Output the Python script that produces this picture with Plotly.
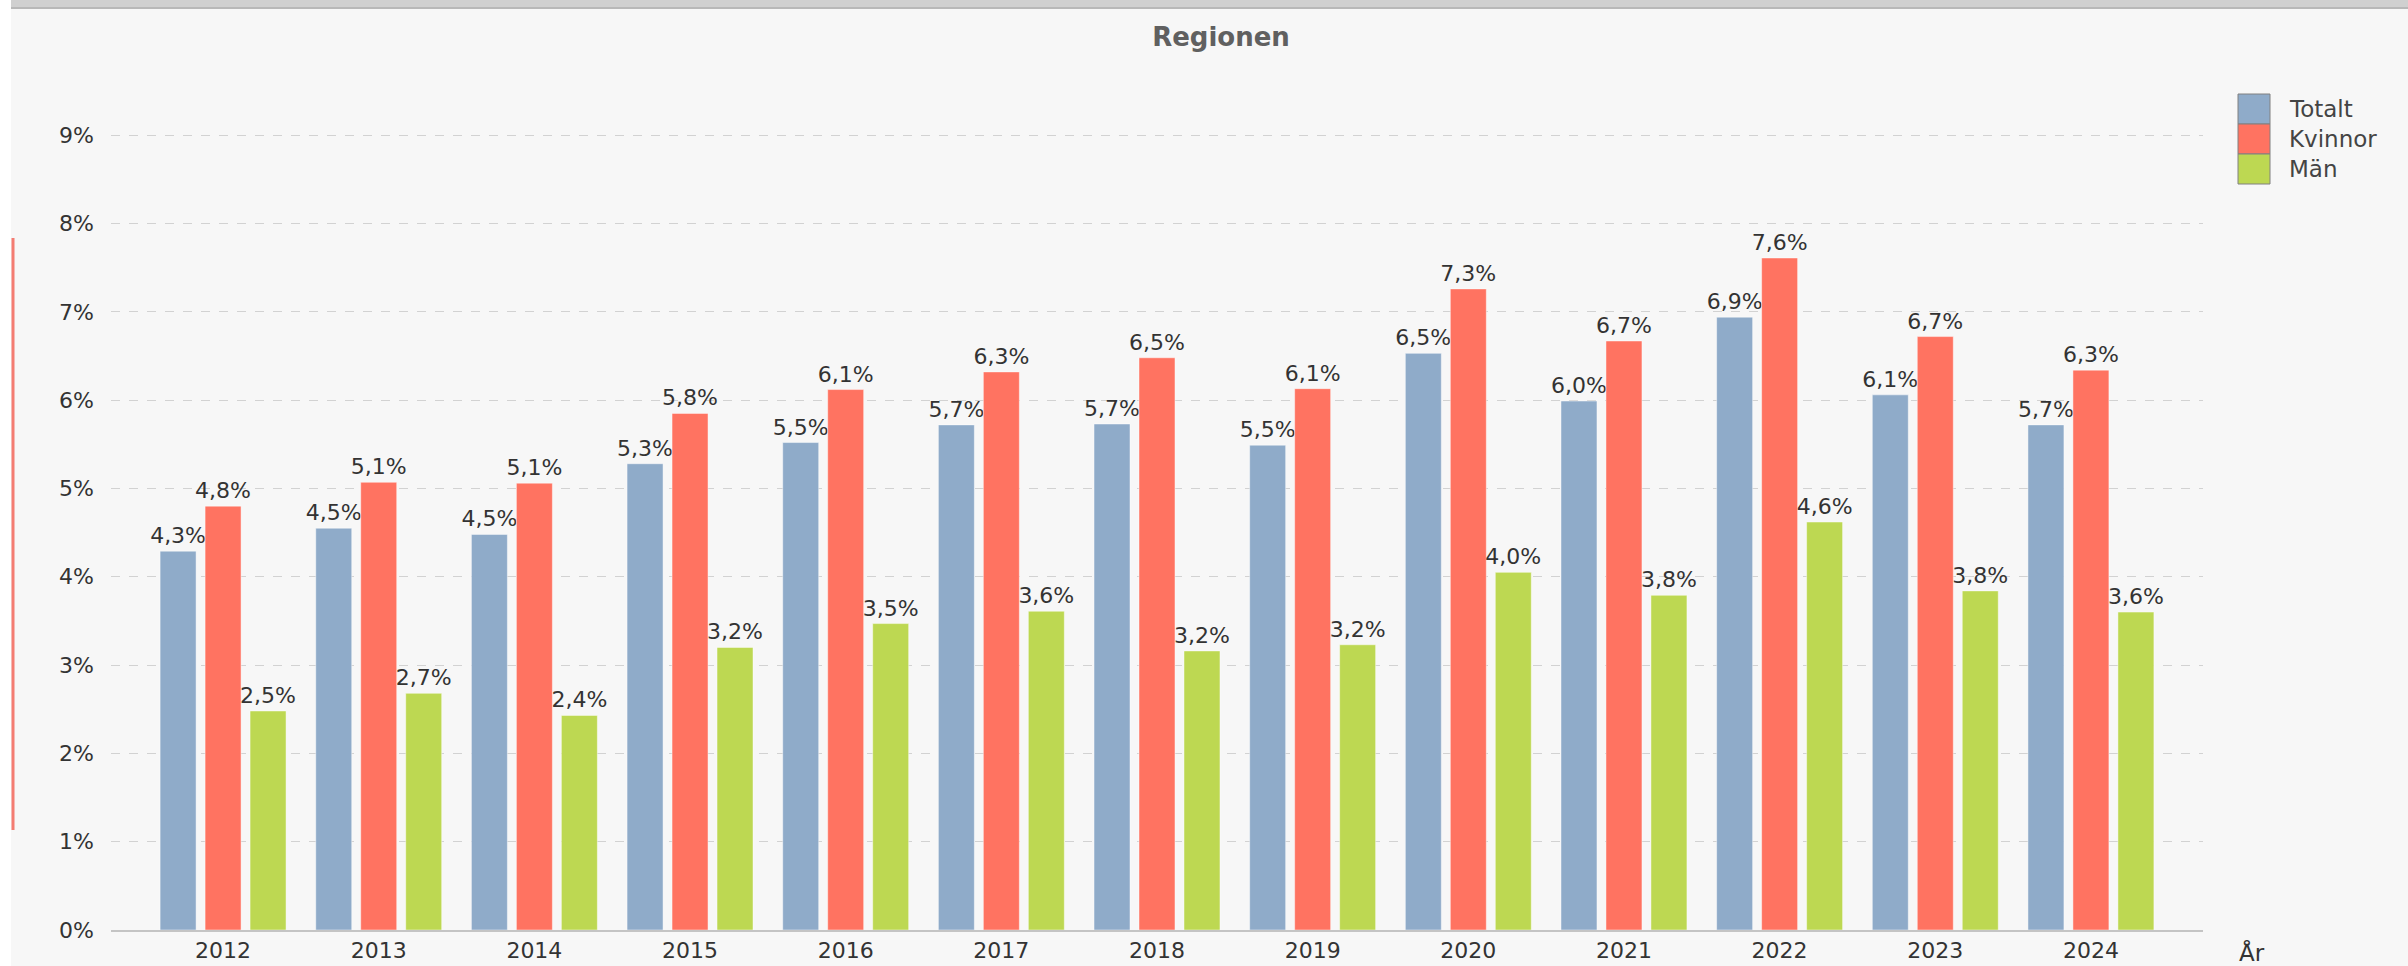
import plotly.graph_objects as go

years = ["2012", "2013", "2014", "2015", "2016", "2017", "2018",
         "2019", "2020", "2021", "2022", "2023", "2024"]
totalt = [4.29, 4.55, 4.48, 5.28, 5.52, 5.72, 5.73, 5.49, 6.53, 5.99, 6.94, 6.06, 5.72]
kvinnor = [4.80, 5.07, 5.06, 5.85, 6.12, 6.32, 6.48, 6.13, 7.26, 6.67, 7.61, 6.72, 6.34]
man = [2.48, 2.68, 2.43, 3.20, 3.47, 3.61, 3.16, 3.23, 4.05, 3.79, 4.62, 3.84, 3.60]

series = [("Totalt", totalt, "#8fabc9"),
          ("Kvinnor", kvinnor, "#ff7361"),
          ("Män", man, "#bdd852")]

FONT = "DejaVu Sans"
BG = "#f7f7f7"

# plot area in pixels (used to place the hand-drawn legend and frame bits)
L, R, T, B = 111, 2203, 122, 930
W, H = R - L, B - T


def px(x):
    return (x - L) / W


def py(y):
    return (B - y) / H


fig = go.Figure()
for name, vals, color in series:
    fig.add_trace(go.Bar(
        x=years, y=vals, name=name,
        marker=dict(color=color, line=dict(color="rgba(255,255,255,0.45)", width=1)),
        texttemplate="%{y:.1f}%", textposition="outside",
        textfont=dict(family=FONT, size=22, color="#333333"),
        constraintext="none", cliponaxis=False, showlegend=False,
    ))

fig.update_layout(
    width=2408, height=966,
    margin=dict(l=L, r=2408 - R, t=T, b=966 - B),
    paper_bgcolor=BG, plot_bgcolor=BG,
    barmode="group", bargap=0.133, bargroupgap=0.2,
    separators=", ",
    font=dict(family=FONT, size=22, color="#333333"),
    title=dict(text="<b>Regionen</b>", x=1221 / 2408, xref="container", xanchor="center",
               y=1 - 37 / 966, yref="container", yanchor="middle",
               font=dict(family=FONT, size=26, color="#606060")),
    xaxis=dict(type="category", range=[-0.72, 12.72], showgrid=False,
               showline=True, linecolor="#c4c4c4", linewidth=2, ticks="",
               automargin=False, tickfont=dict(size=22, color="#333333")),
    yaxis=dict(range=[0, 9.15], dtick=1, ticksuffix="%", showgrid=True,
               gridcolor="#d2d2d2", griddash="dash", gridwidth=1,
               zeroline=False, showline=False, ticks="", ticklabelstandoff=16,
               automargin=False, tickfont=dict(size=22, color="#333333")),
)

# legend drawn by hand to get the big square swatches
for i, (name, vals, color) in enumerate(series):
    top = 94 + i * 30
    fig.add_shape(type="rect", xref="paper", yref="paper",
                  x0=px(2238), x1=px(2270), y0=py(top + 30), y1=py(top),
                  fillcolor=color, line=dict(color="#808080", width=1))
    fig.add_annotation(xref="paper", yref="paper", x=px(2287), y=py(top + 15),
                       text=name, showarrow=False, xanchor="left", yanchor="middle",
                       font=dict(family=FONT, size=23, color="#444444"))

# x axis title
fig.add_annotation(xref="paper", yref="paper", x=px(2252), y=py(952), text="År",
                   showarrow=False, xanchor="center", yanchor="middle",
                   font=dict(family=FONT, size=23, color="#333333"))

# window frame bits: grey top bar, white left strip, red edge line
fig.add_shape(type="rect", xref="paper", yref="paper", layer="above",
              x0=px(10), x1=px(2408), y0=py(7), y1=py(0),
              fillcolor="#d0d0d0", line=dict(width=0))
fig.add_shape(type="line", xref="paper", yref="paper", layer="above",
              x0=px(10), x1=px(2408), y0=py(8), y1=py(8),
              line=dict(color="#b8b8b8", width=2))
fig.add_shape(type="rect", xref="paper", yref="paper", layer="above",
              x0=px(0), x1=px(11), y0=py(966), y1=py(0),
              fillcolor="#ffffff", line=dict(width=0))
fig.add_shape(type="line", xref="paper", yref="paper", layer="above",
              x0=px(13), x1=px(13), y0=py(830), y1=py(238),
              line=dict(color="#f47c72", width=3))

fig.write_html("out.html", config={"displayModeBar": False},
               post_script="document.body.style.margin='0';")
